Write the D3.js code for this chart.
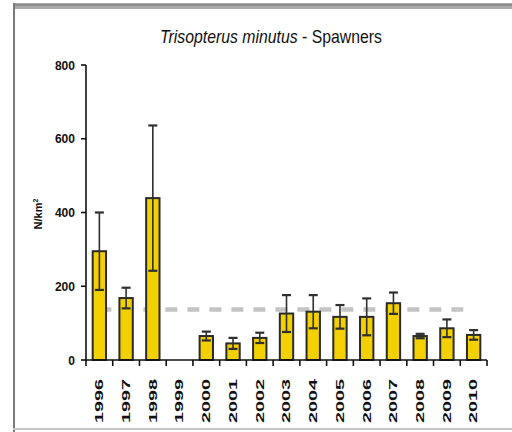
<!DOCTYPE html>
<html><head><meta charset="utf-8">
<script src="https://cdn.jsdelivr.net/npm/d3@7"></script>
<style>body{margin:0;background:#fff}svg{display:block}text{font-family:"Liberation Sans",Arial,sans-serif}</style>
</head><body><svg id="c" width="512" height="432"></svg>
<script>
const years = ["1996","1997","1998","1999","2000","2001","2002","2003","2004","2005","2006","2007","2008","2009","2010"];
const means = [295,168,439,0,65,45,60,126,131,117,117,154,65,86,68];
const errs  = [105,28,197,0,12,15,14,50,45,32,50,29,6,24,13];
const yTicks = [0,200,400,600,800];
const refLevel = 137;

const svg = d3.select("#c");
const L=86,R=487,T=65,B=360;
const x = d3.scaleBand().domain(years).range([L,R]).paddingInner(0).paddingOuter(0);
const y = d3.scaleLinear().domain([0,800]).range([B,T]);

// frame
svg.append("rect").attr("x",13).attr("y",3).attr("width",499).attr("height",6).attr("fill","#a9a9a9");
svg.append("rect").attr("x",13).attr("y",4).attr("width",499).attr("height",2).attr("fill","#8c8c8c");
svg.append("rect").attr("x",13).attr("y",3).attr("width",2).attr("height",429).attr("fill","#7a7a7a");
svg.append("rect").attr("x",13).attr("y",428).attr("width",499).attr("height",2).attr("fill","#c8c8c8");

// title: one text, horizontally squeezed to the reference width
const title = svg.append("text").attr("text-anchor","middle").attr("font-size",18).attr("fill","#111");
title.append("tspan").attr("font-style","italic").text("Trisopterus minutus");
title.append("tspan").text(" - Spawners");
const tw = title.node().getComputedTextLength();
title.attr("transform",`translate(271,43) scale(${222/tw},1)`);

// y label
const yl = svg.append("text").attr("transform","translate(42,214) rotate(-90)").attr("text-anchor","middle")
  .attr("font-size",11).attr("font-weight","bold").attr("fill","#111");
yl.append("tspan").text("N/km");
yl.append("tspan").attr("font-size",7).attr("dy",-4).text("2");

// reference dashed line
svg.append("line").attr("x1",x(years[0])+x.bandwidth()/2).attr("x2",x(years[years.length-1])+3)
  .attr("y1",y(refLevel)).attr("y2",y(refLevel))
  .attr("stroke","#c4c4c4").attr("stroke-width",4.5).attr("stroke-dasharray","12,10");

// bars
const bw = x.bandwidth()*0.5;
svg.append("g").selectAll("rect").data(years).join("rect")
  .attr("x",d=>x(d)+(x.bandwidth()-bw)/2).attr("width",bw)
  .attr("y",(d,i)=>y(means[i])).attr("height",(d,i)=>B-y(means[i]))
  .attr("fill","#f3d000").attr("stroke","#2a2a2a").attr("stroke-width",2)
  .style("display",(d,i)=>means[i]>0?null:"none");

// error bars
const eg = svg.append("g").attr("stroke","#2f2f2f");
years.forEach((d,i)=>{
  if(means[i]<=0) return;
  const cx = x(d)+x.bandwidth()/2;
  const hi = y(means[i]+errs[i]), lo = y(means[i]-errs[i]);
  eg.append("line").attr("x1",cx).attr("x2",cx).attr("y1",hi).attr("y2",lo).attr("stroke-width",1.6);
  eg.append("line").attr("x1",cx-4.5).attr("x2",cx+4.5).attr("y1",hi).attr("y2",hi).attr("stroke-width",2.2);
  eg.append("line").attr("x1",cx-4.5).attr("x2",cx+4.5).attr("y1",lo).attr("y2",lo).attr("stroke-width",2.2);
});

// axes
const ax = svg.append("g").attr("stroke","#111").attr("stroke-width",1.6);
ax.append("line").attr("x1",L).attr("x2",L).attr("y1",T).attr("y2",B+1);
ax.append("line").attr("x1",L).attr("x2",R).attr("y1",B).attr("y2",B);
yTicks.forEach(v=>{
  ax.append("line").attr("x1",L-5).attr("x2",L).attr("y1",y(v)).attr("y2",y(v));
  svg.append("text").attr("x",75).attr("y",y(v)).attr("dy","0.35em").attr("text-anchor","end")
    .attr("font-size",13).attr("font-weight","bold").attr("fill","#111")
    .attr("textLength",String(v).length*6.7).attr("lengthAdjust","spacingAndGlyphs").text(v);
});
d3.range(years.length+1).forEach(k=>{
  const xx = L + k*x.bandwidth();
  ax.append("line").attr("x1",xx).attr("x2",xx).attr("y1",B).attr("y2",B+6);
});
years.forEach(d=>{
  const cx = x(d)+x.bandwidth()/2;
  svg.append("text").attr("transform",`translate(${cx},379) rotate(-90)`).attr("dy","0.35em")
    .attr("text-anchor","end").attr("font-size",11).attr("font-weight","bold").attr("fill","#111")
    .attr("textLength",44).attr("lengthAdjust","spacingAndGlyphs").text(d);
});
</script></body></html>
